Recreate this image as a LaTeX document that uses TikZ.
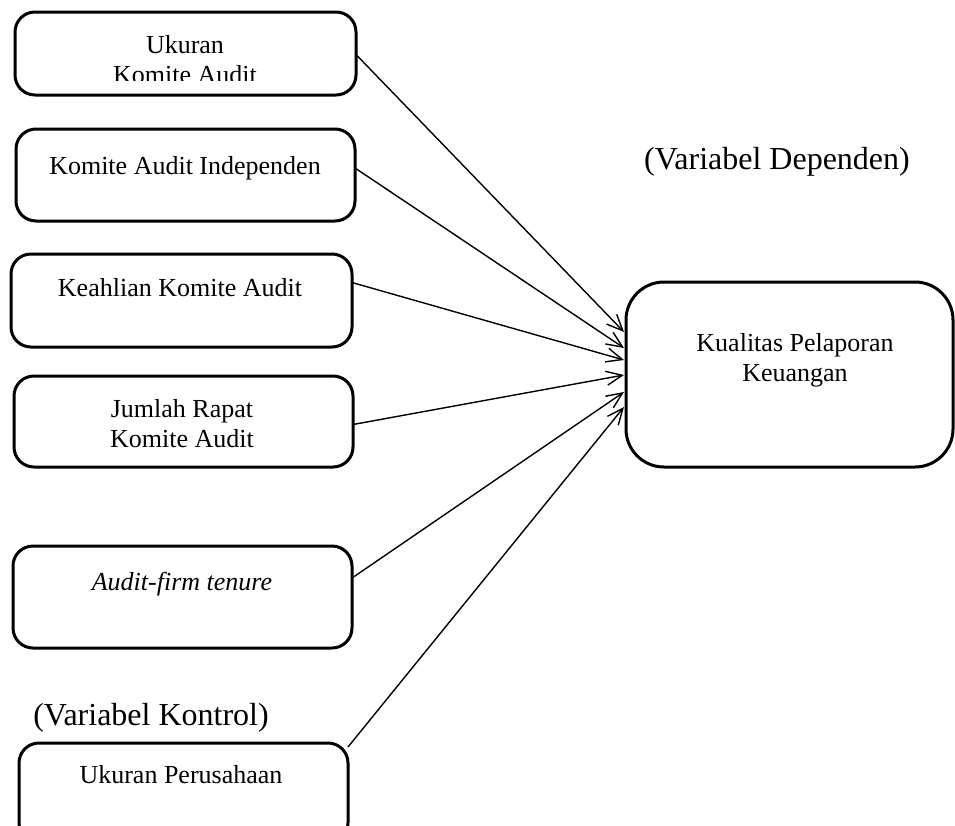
\documentclass[tikz,border=0pt]{standalone}
\usepackage{fontspec}
\setmainfont{Liberation Serif}
\usetikzlibrary{arrows.meta,calc}
\begin{document}
\begin{tikzpicture}[x=1pt,y=-1pt,
 box/.style={draw, line width=3pt, rounded corners=20pt, inner sep=0pt, outer sep=0pt, anchor=north west},
 txt/.style={font=\fontsize{26}{30}\selectfont, align=center, inner sep=0pt},
 lbl/.style={font=\fontsize{32}{36}\selectfont, inner sep=0pt},
 arr/.style={line width=1.4pt, -{Straight Barb[length=16pt,width=14pt,line width=1.4pt]}}]
\clip (0,0) rectangle (955,825);
\fill[white] (0,0) rectangle (955,825);
% boxes
\node[box, minimum width=341pt, minimum height=83pt] (b1) at (15,12) {};
\node[box, minimum width=339pt, minimum height=92pt] (b2) at (16,129) {};
\node[box, minimum width=341pt, minimum height=93pt] (b3) at (11,254) {};
\node[box, minimum width=339pt, minimum height=91pt] (b4) at (14,376) {};
\node[box, minimum width=339pt, minimum height=102pt] (b5) at (13,546) {};
\node[box, minimum width=329pt, minimum height=100pt] (b6) at (19,743) {};
\node[box, rounded corners=38pt, minimum width=327pt, minimum height=185pt] (k) at (626,282) {};
% texts
\begin{scope}
\clip (15,12) rectangle (356,80);
\node[txt] (t1) at (185,60) {Ukuran\\Komite Audit};
\end{scope}
\node[txt] (t2) at (185,168) {Komite Audit Independen};
\node[txt] (t3) at (180,288) {Keahlian Komite Audit};
\node[txt] (t4) at (182,424) {Jumlah Rapat\\Komite Audit};
\node[txt] (t5) at (182,584) {\itshape Audit-firm tenure};
\node[txt] (t6) at (181,775) {Ukuran Perusahaan};
\node[txt] (tk) at (795,360) {Kualitas Pelaporan\\Keuangan};
\node[lbl] (ld) at (777,162) {(Variabel Dependen)};
\node[lbl] (lk) at (151,718) {(Variabel Kontrol)};
% arrows
\draw[arr] ([yshift=-1pt]b1.east) -- ([xshift=-2pt,yshift=42.5pt]k.west);
\draw[arr] ([yshift=7pt]b2.east) -- ([xshift=-2pt,yshift=26.5pt]k.west);
\draw[arr] ([yshift=18pt]b3.east) -- ([xshift=-2pt,yshift=14.5pt]k.west);
\draw[arr] ([yshift=-3pt]b4.east) -- ([xshift=-2pt,yshift=-0.5pt]k.west);
\draw[arr] ([yshift=19pt]b5.east) -- ([xshift=-2pt,yshift=-17.5pt]k.west);
\draw[arr] ([yshift=-4pt]b6.north east) -- ([xshift=-2pt,yshift=-32.5pt]k.west);
\end{tikzpicture}
\end{document}
